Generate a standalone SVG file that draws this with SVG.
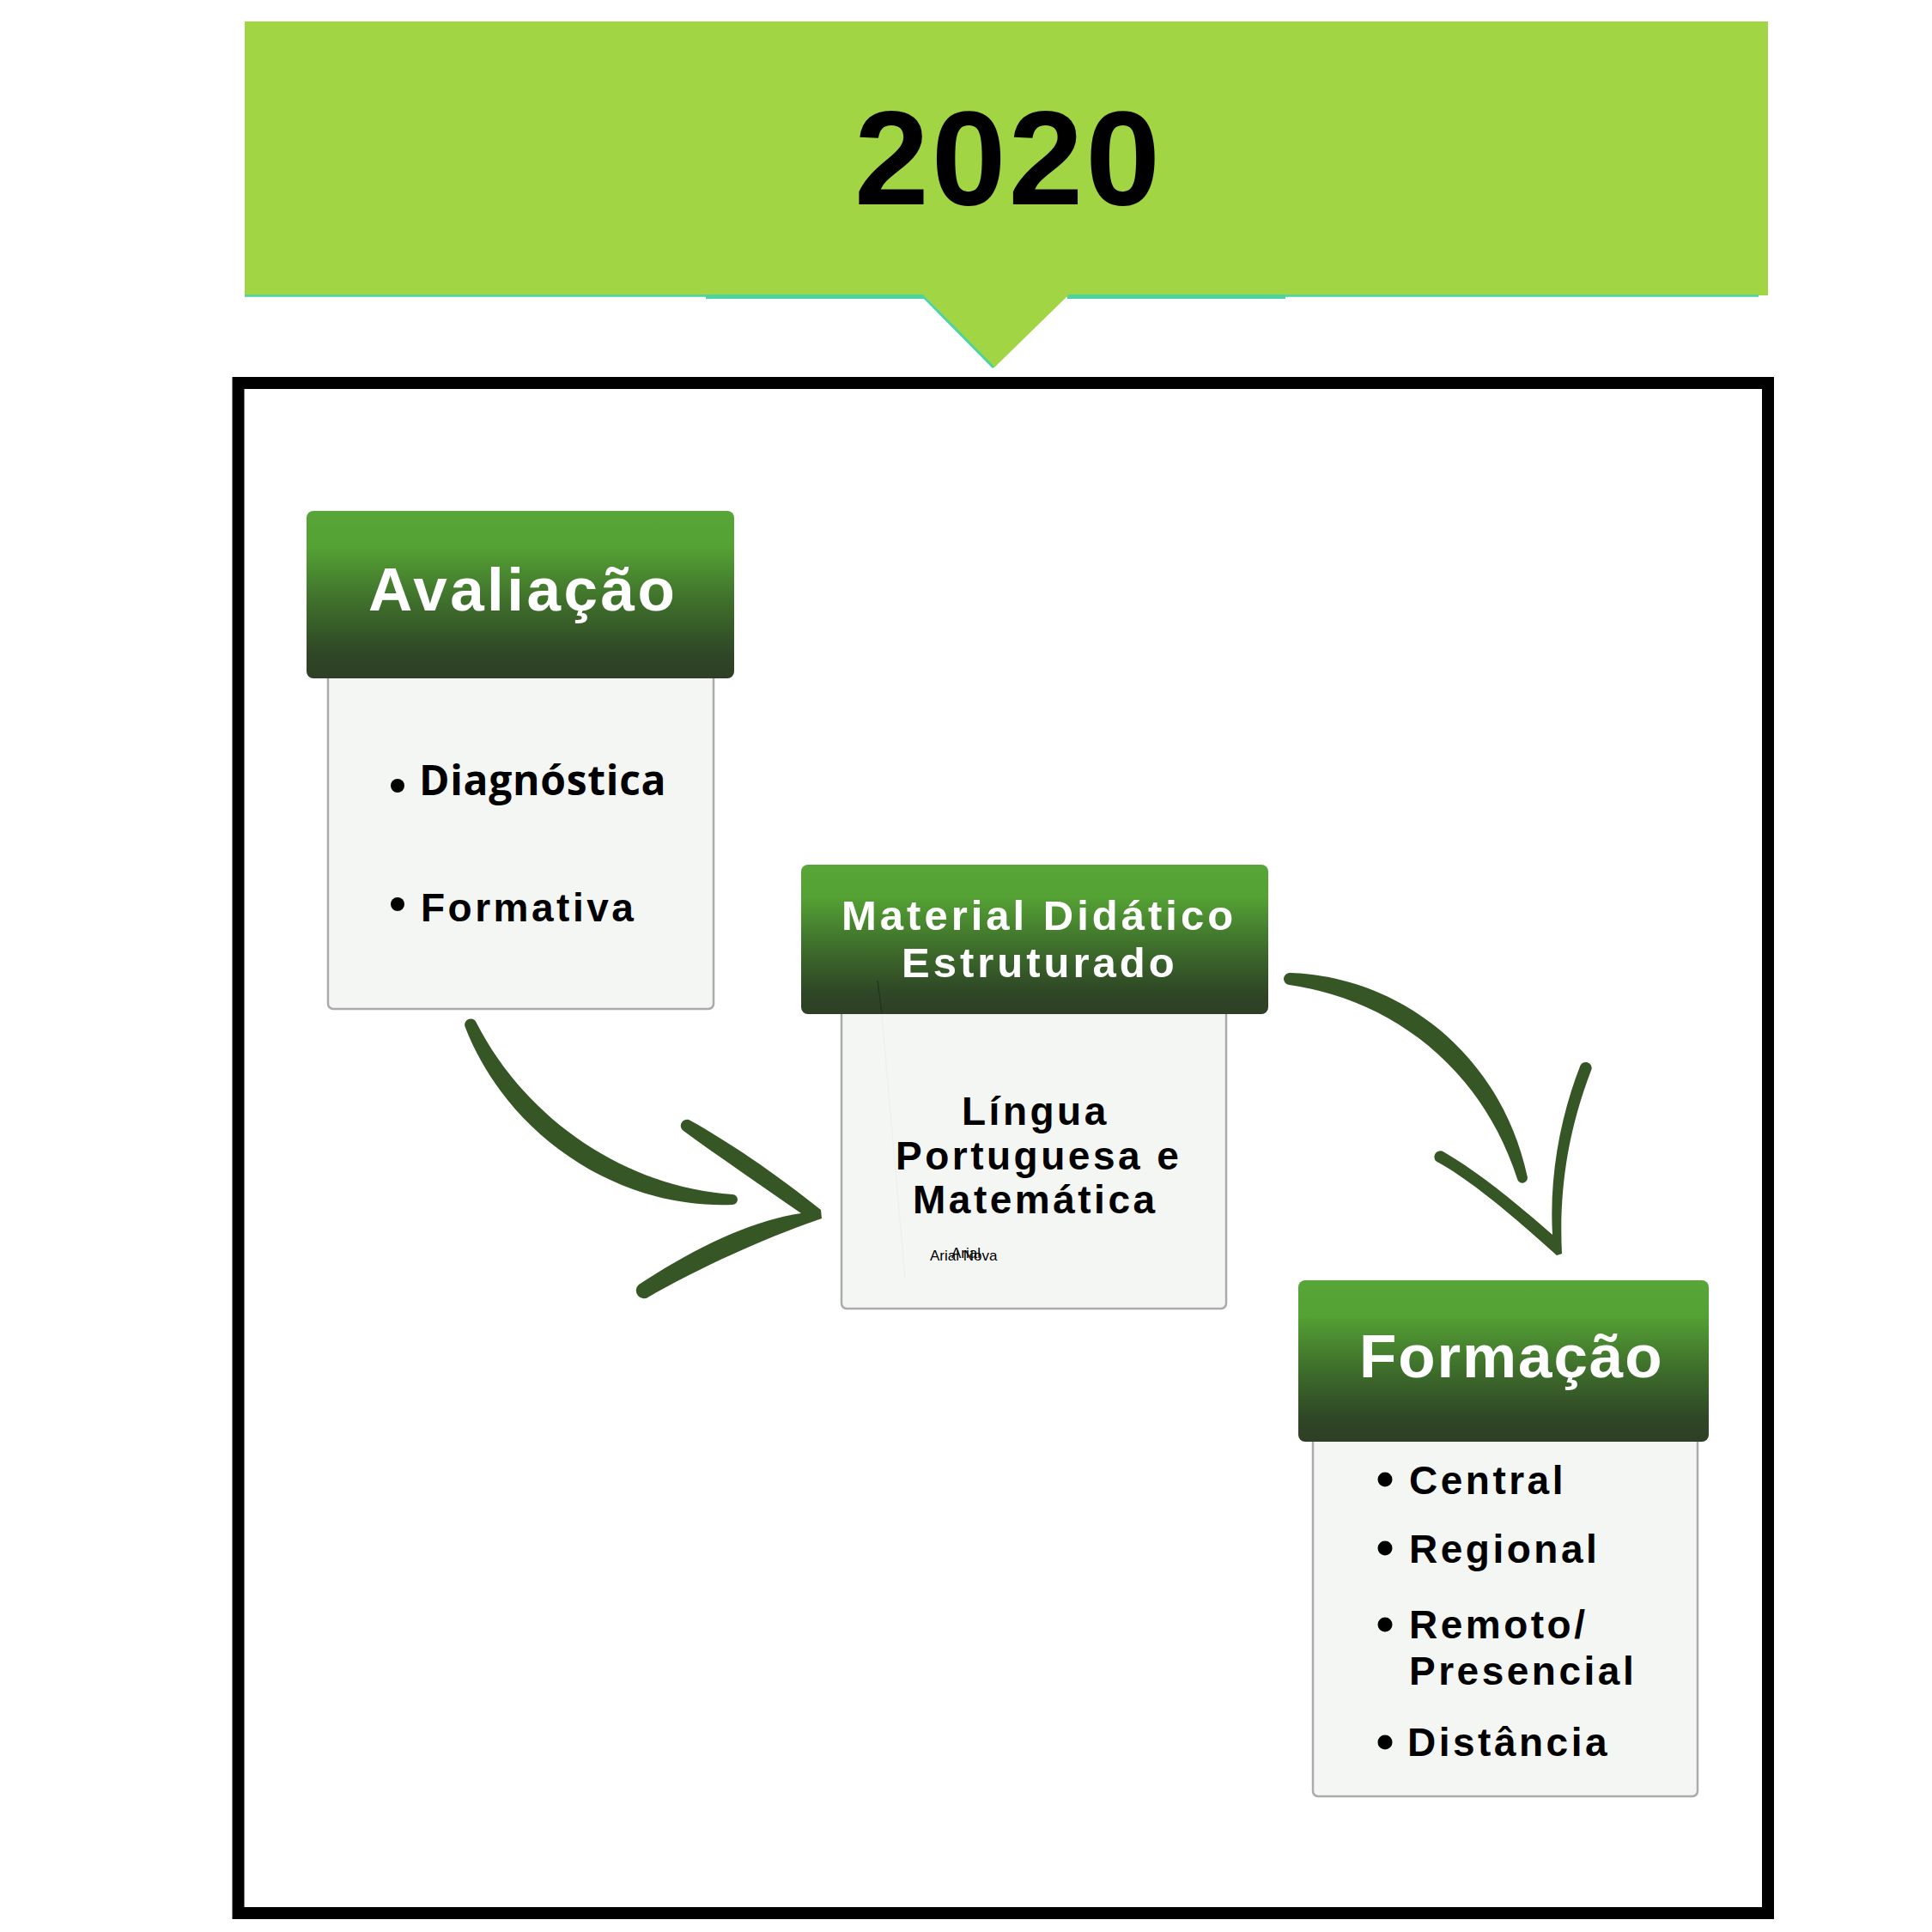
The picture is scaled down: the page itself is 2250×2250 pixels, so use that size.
<svg xmlns="http://www.w3.org/2000/svg" width="2250" height="2250" viewBox="0 0 2250 2250">
<defs>
<linearGradient id="hdr" x1="0" y1="0" x2="0" y2="1">
<stop offset="0" stop-color="#57A637"/>
<stop offset="0.22" stop-color="#54A134"/>
<stop offset="0.55" stop-color="#3E6E2B"/>
<stop offset="0.85" stop-color="#2F4726"/>
<stop offset="1" stop-color="#2E3F25"/>
</linearGradient>
</defs>
<style>
.hdr{fill:url(#hdr);}
.body{fill:#F4F6F4;stroke:#ABABAB;stroke-width:2.5;}
.ht{font-family:"Liberation Sans",Arial,sans-serif;font-weight:bold;fill:#FFFFFF;}
.bt{font-family:"Liberation Sans",Arial,sans-serif;font-weight:bold;fill:#000000;font-size:46px;letter-spacing:3.5px;}
.ot{font-family:"Open Sans","Liberation Sans",sans-serif;font-weight:bold;fill:#000000;font-size:48px;letter-spacing:0.7px;}
.dot{fill:#000000;}
.arr{fill:#365625;}
</style>
<rect width="2250" height="2250" fill="#FFFFFF"/>

<g id="banner">
<rect x="285" y="25" width="1774" height="319" fill="#A1D544"/>
<line x1="285" y1="344.5" x2="2048" y2="344.5" stroke="#4CD3A0" stroke-width="2.5"/>
<rect x="822" y="343" width="254" height="5" fill="#4CD3A0"/>
<rect x="1243" y="343" width="254" height="5" fill="#4CD3A0"/>
<polygon points="1074,342 1158,428 1246,342" fill="#A1D544"/>
<line x1="1076" y1="346" x2="1157" y2="428" stroke="#4CD3A0" stroke-width="3"/>
<text x="995" y="238" font-family="'Liberation Sans',Arial,sans-serif" font-weight="bold" font-size="156" letter-spacing="3" fill="#000000">2020</text>
</g>

<g id="frame">
<rect x="277.5" y="446" width="1781.5" height="1782" fill="none" stroke="#000000" stroke-width="14"/>
</g>

<g id="node-avaliacao">
<rect class="body" x="382" y="780" width="449" height="395" rx="6"/>
<rect class="hdr" x="357" y="595" width="498" height="195" rx="8"/>
<text class="ht" x="429" y="711" font-size="71" letter-spacing="3.5">Avaliação</text>
<circle class="dot" cx="463" cy="915" r="8"/>
<text class="ot" x="488" y="926">Diagnóstica</text>
<circle class="dot" cx="463" cy="1053" r="8"/>
<text class="bt" x="490" y="1073">Formativa</text>
</g>

<g id="node-material">
<rect class="body" x="980" y="1170" width="448" height="354" rx="6"/>
<rect class="hdr" x="933" y="1007" width="544" height="174" rx="8"/>
<line x1="1022" y1="1142" x2="1027" y2="1180" stroke="#24331D" stroke-width="1.3"/>
<line x1="1027" y1="1183" x2="1054" y2="1488" stroke="#ECEFEC" stroke-width="1.2"/>
<text class="ht" x="980" y="1083" font-size="49" letter-spacing="4">Material Didático</text>
<text class="ht" x="1050" y="1138" font-size="49" letter-spacing="4">Estruturado</text>
<text class="bt" x="1120" y="1310">Língua</text>
<text class="bt" x="1043" y="1362">Portuguesa e</text>
<text class="bt" x="1063" y="1413">Matemática</text>
<text x="1083" y="1468" font-family="'Liberation Sans',Arial,sans-serif" font-size="17" fill="#000000">Arial Nova</text>
<text x="1108" y="1465" font-family="'Liberation Sans',Arial,sans-serif" font-size="17" fill="#000000">Arial</text>
</g>

<g id="node-formacao">
<rect class="body" x="1529" y="1669" width="448" height="423" rx="6"/>
<rect class="hdr" x="1512" y="1491" width="478" height="188" rx="8"/>
<text class="ht" x="1583" y="1604" font-size="71" letter-spacing="1.9">Formação</text>
<circle class="dot" cx="1613" cy="1723" r="8.5"/>
<text class="bt" x="1641" y="1740">Central</text>
<circle class="dot" cx="1613" cy="1803" r="8.5"/>
<text class="bt" x="1641" y="1820">Regional</text>
<circle class="dot" cx="1613" cy="1892" r="8.5"/>
<text class="bt" x="1641" y="1908">Remoto/</text>
<text class="bt" x="1641" y="1962">Presencial</text>
<circle class="dot" cx="1613" cy="2029" r="8.5"/>
<text class="bt" x="1639" y="2045">Distância</text>
</g>

<g id="connectors">
<g id="arrow-1">
<path class="arr" d="M554.4,1190.2 C610.7,1300.9 724.6,1381.8 853,1391 A6,6 0 0 1 853,1403 C715.4,1408.2 589.3,1319.1 541.6,1195.8 A7,7 0 0 1 554.4,1190.2 Z"/>
<path class="arr" d="M804,1305 C844,1327 904,1367 956,1409 L957,1419 C904,1437 826,1470 756,1510 A7,7 0 0 1 744,1496 C814,1450 878,1421 933,1413 C887,1381 837,1347 796,1317 A7,7 0 0 1 804,1305 Z"/>
</g>
<g id="arrow-2">
<path class="arr" d="M1502.6,1133 C1625,1136.9 1746.5,1222.1 1778.8,1370.5 A6,6 0 0 1 1767.2,1373.5 C1723.5,1237.9 1615,1163.1 1501.4,1147 A7,7 0 0 1 1502.6,1133 Z"/>
<path class="arr" d="M1853.6,1245.1 C1831.6,1302.1 1814.6,1372.1 1819,1460 L1813,1462 C1766,1420 1716,1376 1672.7,1352.5 A7,7 0 0 1 1681.3,1341.5 C1724,1366 1770,1405 1808,1438 C1804,1368 1818,1298 1840.4,1240.9 A7,7 0 0 1 1853.6,1245.1 Z"/>
</g>
</g>
</svg>
